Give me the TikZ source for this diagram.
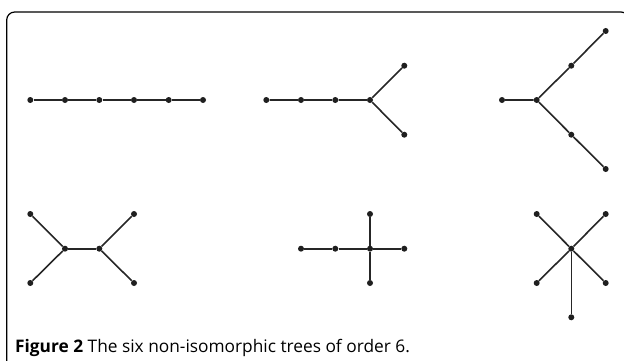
\documentclass[tikz,border=0pt]{standalone}
\usepackage{fontspec}
\setmainfont{Open Sans}
\usetikzlibrary{positioning}

\begin{document}
\begin{tikzpicture}[
  x=1pt,y=-1pt,
  vertex/.style={circle,fill=black!88,draw=none,inner sep=0pt,minimum size=6pt},
  edge/.style={line width=1.6pt,draw=black!85},
  frame/.style={line width=1.2pt,rounded corners=8pt}
]
\useasboundingbox (0,0) rectangle (624,361);
\begin{scope}
  \clip (0,0) rectangle (624,361);
  \draw[frame] (6.7,12) rectangle (629,380);
\end{scope}

% path
\node[vertex] (a1) at (30.3,100) {};
\node[vertex] (a2) at (65,100) {};
\node[vertex] (a3) at (99.3,100) {};
\node[vertex] (a4) at (134,100) {};
\node[vertex] (a5) at (168.7,100) {};
\node[vertex] (a6) at (203,100) {};
\draw[edge] (a1) -- (a2) -- (a3) -- (a4) -- (a5) -- (a6);

% fork at the end
\node[vertex] (b1) at (266.3,100) {};
\node[vertex] (b2) at (301,100) {};
\node[vertex] (b3) at (335.3,100) {};
\node[vertex] (b4) at (370,100) {};
\node[vertex] (b5) at (404.3,65.7) {};
\node[vertex] (b6) at (404.3,134.7) {};
\draw[edge] (b1) -- (b2) -- (b3) -- (b4) -- (b5);
\draw[edge] (b4) -- (b6);

% long fork
\node[vertex] (c1) at (502,100) {};
\node[vertex] (c2) at (536.7,100) {};
\node[vertex] (c3) at (571.3,65.7) {};
\node[vertex] (c4) at (605.7,31) {};
\node[vertex] (c5) at (571.3,134.7) {};
\node[vertex] (c6) at (605.7,169) {};
\draw[edge] (c1) -- (c2) -- (c3) -- (c4);
\draw[edge] (c2) -- (c5) -- (c6);

% double fork
\node[vertex] (d1) at (30.3,214) {};
\node[vertex] (d2) at (30.3,283) {};
\node[vertex] (d3) at (65,248.7) {};
\node[vertex] (d4) at (99.3,248.7) {};
\node[vertex] (d5) at (134,214) {};
\node[vertex] (d6) at (134,283) {};
\draw[edge] (d1) -- (d3) -- (d2);
\draw[edge] (d3) -- (d4);
\draw[edge] (d5) -- (d4) -- (d6);

% cross
\node[vertex] (e1) at (301,248.7) {};
\node[vertex] (e2) at (335.3,248.7) {};
\node[vertex] (e3) at (370,248.7) {};
\node[vertex] (e4) at (404.3,248.7) {};
\node[vertex] (e5) at (370,214) {};
\node[vertex] (e6) at (370,283) {};
\draw[edge] (e1) -- (e2) -- (e3) -- (e4);
\draw[edge] (e5) -- (e3) -- (e6);

% star
\node[vertex] (f1) at (571.3,248.7) {};
\node[vertex] (f2) at (536.7,214) {};
\node[vertex] (f3) at (605.7,214) {};
\node[vertex] (f4) at (536.7,283) {};
\node[vertex] (f5) at (605.7,283) {};
\node[vertex] (f6) at (571.3,317.3) {};
\draw[edge] (f1) -- (f2);
\draw[edge] (f1) -- (f3);
\draw[edge] (f1) -- (f4);
\draw[edge] (f1) -- (f5);
\draw[edge] (f1) -- (f6);

\node[anchor=base west,inner sep=0pt,font=\fontsize{17.3}{20}\selectfont] (caption) at (15,352.5)
  {\textbf{Figure 2} The six non-isomorphic trees of order 6.};
\end{tikzpicture}
\end{document}
